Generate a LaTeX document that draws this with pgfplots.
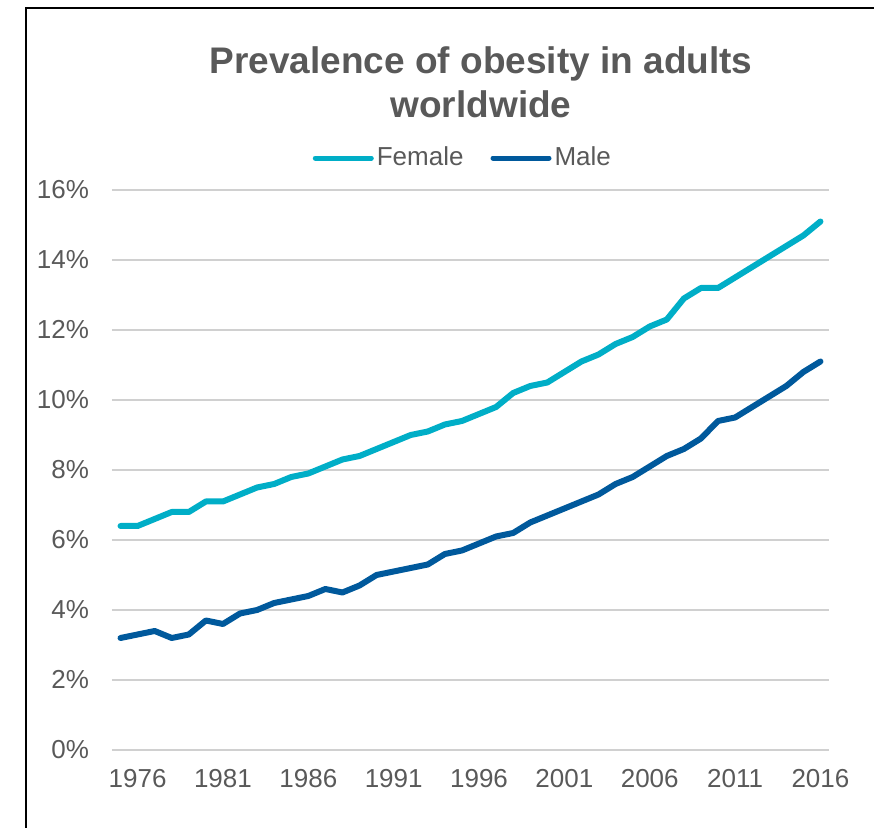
\documentclass[border=0pt]{standalone}
\usepackage{fontspec}
\setmainfont{Liberation Sans}
\usepackage{pgfplots}
\usepackage{pgfplotstable}
\pgfplotsset{compat=1.18}

\definecolor{female}{HTML}{00AEC7}
\definecolor{male}{HTML}{00599C}
\definecolor{txt}{HTML}{595959}
\definecolor{gridc}{HTML}{D0D0D0}

% prevalence of obesity, % of adults
\pgfplotstableread{
year female male
1975 6.4 3.2
1976 6.4 3.3
1977 6.6 3.4
1978 6.8 3.2
1979 6.8 3.3
1980 7.1 3.7
1981 7.1 3.6
1982 7.3 3.9
1983 7.5 4.0
1984 7.6 4.2
1985 7.8 4.3
1986 7.9 4.4
1987 8.1 4.6
1988 8.3 4.5
1989 8.4 4.7
1990 8.6 5.0
1991 8.8 5.1
1992 9.0 5.2
1993 9.1 5.3
1994 9.3 5.6
1995 9.4 5.7
1996 9.6 5.9
1997 9.8 6.1
1998 10.2 6.2
1999 10.4 6.5
2000 10.5 6.7
2001 10.8 6.9
2002 11.1 7.1
2003 11.3 7.3
2004 11.6 7.6
2005 11.8 7.8
2006 12.1 8.1
2007 12.3 8.4
2008 12.9 8.6
2009 13.2 8.9
2010 13.2 9.4
2011 13.5 9.5
2012 13.8 9.8
2013 14.1 10.1
2014 14.4 10.4
2015 14.7 10.8
2016 15.1 11.1
}\obesity

\begin{document}
\begin{tikzpicture}
\useasboundingbox (0,0) rectangle (437pt,414pt);
% frame (cut off at right and bottom)
\draw[black, line width=1pt] (13pt,-5pt) -- (13pt,410pt) -- (445pt,410pt);

\node[anchor=base, text=txt, font=\bfseries\fontsize{18.5}{22}\selectfont]
  at (240.5pt,377pt) {Prevalence of obesity in adults};
\node[anchor=base, text=txt, font=\bfseries\fontsize{18.5}{22}\selectfont]
  at (240.5pt,355pt) {worldwide};

\begin{axis}[
    at={(56pt,39pt)}, anchor=south west,
    scale only axis, width=358.5pt, height=280pt,
    xmin=1974.5, xmax=2016.5, ymin=0, ymax=16,
    xtick={1976,1981,...,2016},
    xticklabels={1976,1981,1986,1991,1996,2001,2006,2011,2016},
    ytick={0,2,...,16},
    yticklabels={0\%,2\%,4\%,6\%,8\%,10\%,12\%,14\%,16\%},
    ymajorgrids, grid style={gridc, line width=1pt},
    axis line style={draw=none}, major tick length=0pt,
    tick label style={font=\fontsize{13}{15}\selectfont, text=txt},
    xticklabel style={yshift=-6pt},
    yticklabel style={xshift=-8pt},
    clip=false,
    every axis plot/.append style={line width=3pt, line join=round, line cap=round, no markers},
    legend columns=2,
    legend image code/.code={\draw[#1, line width=2.5pt] (0pt,0pt) -- (28pt,0pt);},
    legend style={draw=none, fill=none, at={(0.49,1.057)}, anchor=center,
        font=\fontsize{13}{15}\selectfont, text=txt,
        nodes={inner sep=1.5pt},
        /tikz/every even column/.append style={column sep=12pt}},
]
\addplot[female] table[x=year, y=female] {\obesity};
\addlegendentry{Female}
\addplot[male] table[x=year, y=male] {\obesity};
\addlegendentry{Male}
\end{axis}
\end{tikzpicture}
\end{document}
